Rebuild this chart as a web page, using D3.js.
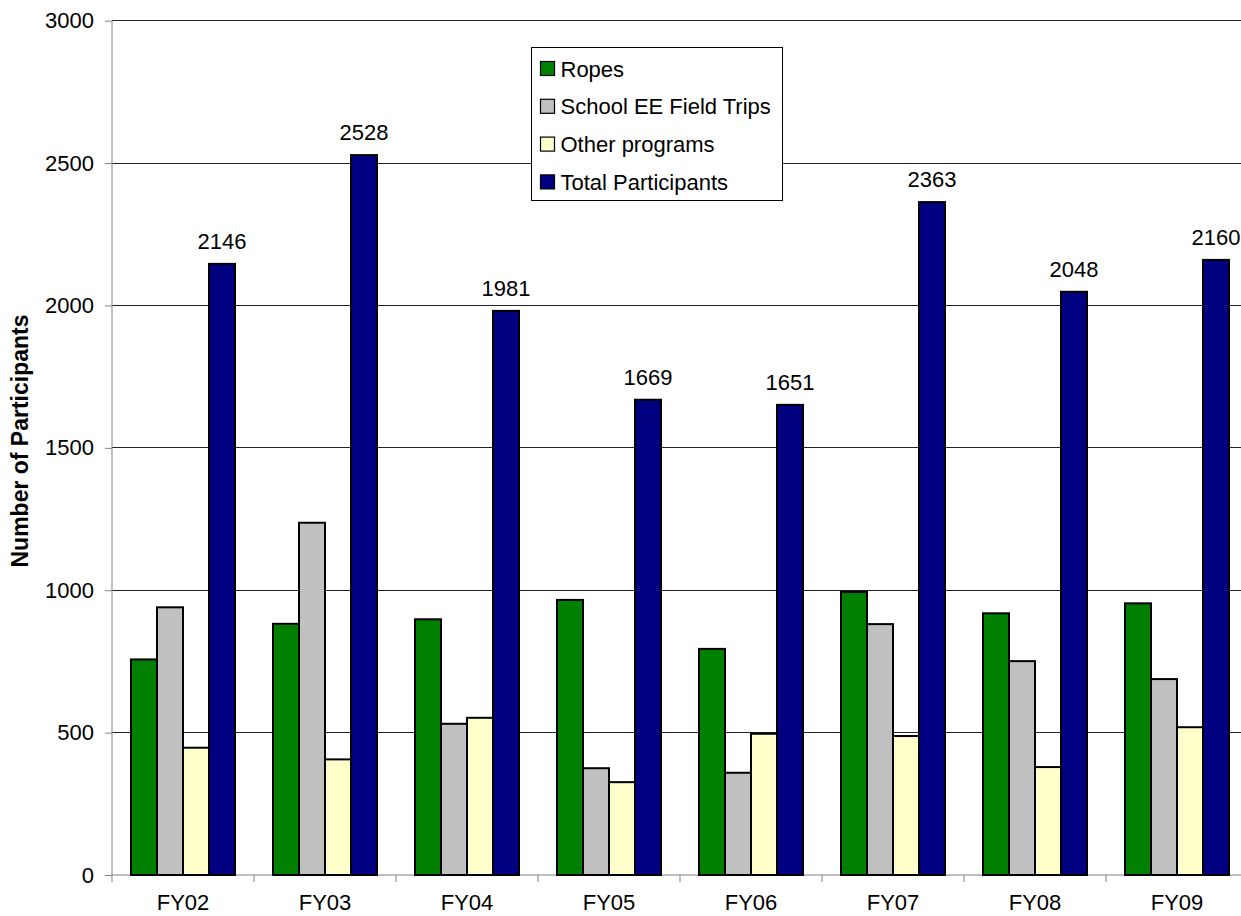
<!DOCTYPE html>
<html>
<head>
<meta charset="utf-8">
<script src="https://cdn.jsdelivr.net/npm/d3@7"></script>
<style>
  body { margin: 0; background: #fff; }
  text { font-family: Arial, "Liberation Sans", sans-serif; }
</style>
</head>
<body>
<svg id="graph"></svg>
<script>
// chart data
const years = ["FY02", "FY03", "FY04", "FY05", "FY06", "FY07", "FY08", "FY09"]
const seriesNames = ["Ropes", "School EE Field Trips", "Other programs", "Total Participants"]
const ropes = [757, 882, 898, 966, 794, 994, 919, 954]
const fieldTrips = [940, 1237, 531, 375, 359, 881, 751, 688]
const otherPrograms = [447, 406, 552, 326, 496, 488, 379, 519]
const totals = [2146, 2528, 1981, 1669, 1651, 2363, 2048, 2160]
const yTicks = [0, 500, 1000, 1500, 2000, 2500, 3000]
const colors = ["#008000", "#c0c0c0", "#ffffcc", "#000080"]

const W = 1241, H = 916
// plot area (right edge runs past the window, as in the reference)
const plot = { left: 112, top: 20.7, bottom: 875, right: 112 + 8 * 142 }

const svg = d3.select("#graph").attr("width", W).attr("height", H)

const values = [ropes, fieldTrips, otherPrograms, totals]
const table = years.map((yr, i) => ({
    year: yr,
    vals: seriesNames.map((s, j) => ({ name: s, value: values[j][i], idx: j }))
}))

let x0 = d3.scaleBand().domain(years).range([plot.left, plot.right])
let bw = x0.bandwidth()
let gap = bw * 38 / 142
let x1 = d3.scaleBand().domain(seriesNames).range([gap / 2, bw - gap / 2])
let y = d3.scaleLinear().domain([0, 3000]).range([plot.bottom, plot.top])

// horizontal gridlines
svg.append("g")
    .selectAll("line")
    .data(yTicks.filter(t => t > 0))
    .join("line")
    .attr("x1", plot.left).attr("x2", W)
    .attr("y1", d => y(d)).attr("y2", d => y(d))
    .attr("stroke", "#222")
    .attr("stroke-width", 1)
    .attr("shape-rendering", "crispEdges")

// y axis
let yaxis = d3.axisLeft(y).tickValues(yTicks).tickSize(7).tickPadding(11).tickFormat(d3.format("d"))
let gy = svg.append("g").attr("transform", `translate(${plot.left},0)`).call(yaxis)
gy.select(".domain").attr("stroke", "#808080").attr("d", `M0,${plot.top}V${plot.bottom}`)
gy.selectAll(".tick line").attr("stroke", "#808080")
gy.selectAll(".tick text").attr("font-size", 22).attr("fill", "#000")
    .style("font-family", "Arial, 'Liberation Sans', sans-serif")

// x axis: ticks on category boundaries
svg.append("line")
    .attr("x1", plot.left).attr("x2", W)
    .attr("y1", plot.bottom).attr("y2", plot.bottom)
    .attr("stroke", "#808080")
svg.append("g")
    .selectAll("line")
    .data(years)
    .join("line")
    .attr("x1", d => x0(d)).attr("x2", d => x0(d))
    .attr("y1", plot.bottom).attr("y2", plot.bottom + 7)
    .attr("stroke", "#808080")
svg.append("g")
    .selectAll("text")
    .data(years)
    .join("text")
    .attr("x", d => x0(d) + bw / 2)
    .attr("y", 910)
    .attr("text-anchor", "middle")
    .attr("font-size", 22)
    .text(d => d)

// bars
let groups = svg.append("g")
    .selectAll("g")
    .data(table)
    .join("g")
    .attr("transform", d => `translate(${x0(d.year)},0)`)

groups.selectAll("rect")
    .data(d => d.vals)
    .join("rect")
    .attr("x", d => x1(d.name))
    .attr("y", d => y(d.value))
    .attr("width", x1.bandwidth())
    .attr("height", d => y(0) - y(d.value))
    .attr("fill", d => colors[d.idx])
    .attr("stroke", "#000")
    .attr("stroke-width", 2)

// total labels above navy bars
groups.append("text")
    .attr("x", d => x1("Total Participants") + x1.bandwidth() / 2)
    .attr("y", d => y(d.vals[3].value) - 15)
    .attr("text-anchor", "middle")
    .attr("font-size", 22)
    .text(d => d.vals[3].value)

// y axis title
svg.append("text")
    .attr("transform", "translate(28,441) rotate(-90)")
    .attr("text-anchor", "middle")
    .attr("font-size", 23)
    .attr("font-weight", "bold")
    .text("Number of Participants")

// legend
let legend = svg.append("g").attr("transform", "translate(531.5,47.5)")
legend.append("rect")
    .attr("width", 251).attr("height", 153)
    .attr("fill", "#fff").attr("stroke", "#000").attr("stroke-width", 1)
let items = legend.selectAll("g.item")
    .data(seriesNames)
    .join("g")
    .attr("class", "item")
    .attr("transform", (d, i) => `translate(0,${21 + i * 37.8})`)
items.append("rect")
    .attr("x", 9).attr("y", -7)
    .attr("width", 14).attr("height", 14)
    .attr("fill", (d, i) => colors[i])
    .attr("stroke", "#000").attr("stroke-width", 1.2)
items.append("text")
    .attr("x", 29).attr("y", 8)
    .attr("font-size", 22)
    .text(d => d)
</script>
</body>
</html>
